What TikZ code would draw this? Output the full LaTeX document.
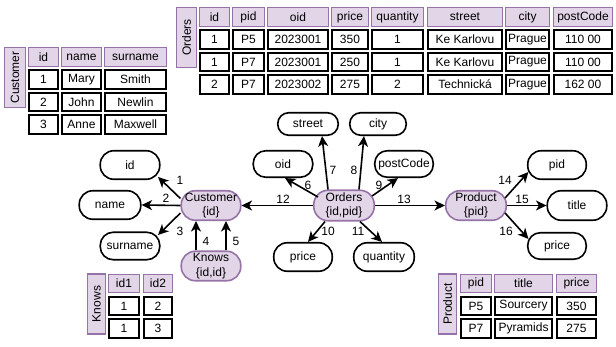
\documentclass[tikz,border=0pt]{standalone}
\usepackage{fontspec}
\setmainfont{Liberation Sans}
\usetikzlibrary{arrows.meta}
\definecolor{lilac}{HTML}{E1D5E7}
\definecolor{lilacline}{HTML}{9673A6}

% one table cell: style, name, left x, right x, top y, text
\newcommand\dbcell[6]{%
  \node[#1, minimum width={#4-#3-1.6}, minimum height=18.4] (#2) at ({(#3+#4)/2},{#5+10}) {#6};}

\tikzset{
  attr/.style={draw=black, fill=white, line width=1.6pt, inner sep=0pt, align=center},
  ent/.style={attr, draw=lilacline, fill=lilac},
  link/.style={line width=1.6pt, -{Stealth[length=10.5pt,width=10pt,inset=3pt]}},
  num/.style={inner sep=0pt},
  hcell/.style={draw=lilacline, fill=lilac, line width=1.3pt, inner sep=0pt},
  dcell/.style={draw=black, fill=white, line width=1.7pt, inner sep=0pt},
  tlabel/.style={draw=lilacline, fill=lilac, line width=1.3pt, inner sep=0pt, rotate=90},
}

\begin{document}
\begin{tikzpicture}[x=1pt, y=-1pt, font=\fontsize{12}{14.5}\selectfont]
\useasboundingbox (0,0) rectangle (616,347);

% ---------- Customer table ----------
\node[tlabel, minimum width=59.5, minimum height=20.5] (cus-t) at (15,77.5) {Customer};
\dbcell{hcell}{cus-h1}{28}{59}{47}{id}
\dbcell{hcell}{cus-h2}{61}{102}{47}{name}
\dbcell{hcell}{cus-h3}{104}{167}{47}{surname}
\foreach \y/\r/\a/\b/\c in {69.5/1/1/Mary/Smith, 92/2/2/John/Newlin, 114.5/3/3/Anne/Maxwell} {
  \dbcell{dcell}{cus-\r-1}{28}{59}{\y}{\a}
  \dbcell{dcell}{cus-\r-2}{61}{102}{\y}{\b}
  \dbcell{dcell}{cus-\r-3}{104}{167}{\y}{\c}
}

% ---------- Orders table ----------
\node[tlabel, minimum width=60, minimum height=19.5] (ord-t) at (186.5,37.5) {Orders};
\dbcell{hcell}{ord-h1}{199}{230}{7}{id}
\dbcell{hcell}{ord-h2}{232}{265}{7}{pid}
\dbcell{hcell}{ord-h3}{267}{329}{7}{oid}
\dbcell{hcell}{ord-h4}{331}{369}{7}{price}
\dbcell{hcell}{ord-h5}{371}{424}{7}{quantity}
\dbcell{hcell}{ord-h6}{427}{503}{7}{street}
\dbcell{hcell}{ord-h7}{505}{550}{7}{city}
\dbcell{hcell}{ord-h8}{553}{613}{7}{postCode}
\foreach \y/\r/\a/\b/\c/\d/\e/\f/\g/\h in {
    29.5/1/1/P5/2023001/350/1/Ke Karlovu/Prague/110 00,
    52/2/1/P7/2023001/250/1/Ke Karlovu/Prague/110 00,
    74.5/3/2/P7/2023002/275/2/Technická/Prague/162 00} {
  \dbcell{dcell}{ord-\r-1}{199}{230}{\y}{\a}
  \dbcell{dcell}{ord-\r-2}{232}{265}{\y}{\b}
  \dbcell{dcell}{ord-\r-3}{267}{329}{\y}{\c}
  \dbcell{dcell}{ord-\r-4}{331}{369}{\y}{\d}
  \dbcell{dcell}{ord-\r-5}{371}{424}{\y}{\e}
  \dbcell{dcell}{ord-\r-6}{427}{503}{\y}{\f}
  \dbcell{dcell}{ord-\r-7}{505}{550}{\y}{\g}
  \dbcell{dcell}{ord-\r-8}{553}{613}{\y}{\h}
}

% ---------- Knows table ----------
\node[tlabel, minimum width=60, minimum height=18] (kno-t) at (96.5,304) {Knows};
\dbcell{hcell}{kno-h1}{108}{140}{273.5}{id1}
\dbcell{hcell}{kno-h2}{143}{173}{273.5}{id2}
\foreach \y/\r/\a/\b in {296/1/1/2, 318.5/2/1/3} {
  \dbcell{dcell}{kno-\r-1}{108}{140}{\y}{\a}
  \dbcell{dcell}{kno-\r-2}{143}{173}{\y}{\b}
}

% ---------- Product table ----------
\node[tlabel, minimum width=60, minimum height=18] (pro-t) at (447.5,304) {Product};
\dbcell{hcell}{pro-h1}{460}{492}{273.5}{pid}
\dbcell{hcell}{pro-h2}{494}{553}{273.5}{title}
\dbcell{hcell}{pro-h3}{556}{597}{273.5}{price}
\foreach \y/\r/\a/\b/\c in {296/1/P5/Sourcery/350, 318.5/2/P7/Pyramids/275} {
  \dbcell{dcell}{pro-\r-1}{460}{492}{\y}{\a}
  \dbcell{dcell}{pro-\r-2}{494}{553}{\y}{\b}
  \dbcell{dcell}{pro-\r-3}{556}{597}{\y}{\c}
}

% ---------- schema graph: entities ----------
\node[ent, minimum width=59.5, minimum height=29.5, rounded corners=14pt] (cust) at (211,205.5) {Customer\\\{id\}};
\node[ent, minimum width=59.5, minimum height=29.5, rounded corners=14pt] (knows) at (211,266) {Knows\\\{id,id\}};
\node[ent, minimum width=60.5, minimum height=30.5, rounded corners=14.5pt] (orders) at (344,205.5) {Orders\\\{id,pid\}};
\node[ent, minimum width=60.5, minimum height=29.5, rounded corners=14pt] (product) at (476,205.5) {Product\\\{pid\}};

% ---------- schema graph: attributes ----------
\node[attr, minimum width=59.5, minimum height=28.5, rounded corners=13.5pt] (id) at (130,165) {id};
\node[attr, minimum width=61.5, minimum height=28.5, rounded corners=13.5pt] (name) at (110,205) {name};
\node[attr, minimum width=59.5, minimum height=27.5, rounded corners=13pt] (surname) at (130,246) {surname};
\node[attr, minimum width=59.5, minimum height=26.5, rounded corners=12.5pt] (oid) at (283,164) {oid};
\node[attr, minimum width=60.5, minimum height=22.5, rounded corners=11pt] (street) at (308,124) {street};
\node[attr, minimum width=56.5, minimum height=22.5, rounded corners=11pt] (city) at (378,124) {city};
\node[attr, minimum width=58.5, minimum height=26.5, rounded corners=12.5pt] (postcode) at (404,164) {postCode};
\node[attr, minimum width=58.5, minimum height=28.5, rounded corners=13.5pt] (price) at (303,257) {price};
\node[attr, minimum width=60.5, minimum height=28.5, rounded corners=13.5pt] (quantity) at (384,257) {quantity};
\node[attr, minimum width=58.5, minimum height=28.5, rounded corners=13.5pt] (pid) at (557,165) {pid};
\node[attr, minimum width=59.5, minimum height=29.5, rounded corners=14pt] (title) at (577,205.5) {title};
\node[attr, minimum width=58.5, minimum height=26.5, rounded corners=12.5pt] (pprice) at (557,246) {price};

% ---------- connectors ----------
\draw[link] ([yshift=7pt]cust.west) -- ([xshift=-2.5pt,yshift=-12pt]id.east);
\draw[link] (cust.west) -- (name.east);
\draw[link] ([yshift=-7.5pt]cust.west) -- ([xshift=-2.5pt,yshift=11pt]surname.east);
\draw[link] ([xshift=-15pt]knows.north) -- ([xshift=-15pt]cust.south);
\draw[link] ([xshift=15pt]knows.north) -- ([xshift=15pt]cust.south);
\draw[link] (orders.west) -- (cust.east);
\draw[link] ([xshift=5pt,yshift=8.5pt]orders.west) -- ([xshift=2pt]oid.south);
\draw[link] ([xshift=-16pt]orders.north) -- ([xshift=14pt]street.south);
\draw[link] ([xshift=15pt]orders.north) -- ([xshift=-14pt]city.south);
\draw[link] ([xshift=-3pt,yshift=9.5pt]orders.east) -- ([xshift=-6pt]postcode.south);
\draw[link] ([xshift=-19pt]orders.south) -- ([xshift=5pt]price.north);
\draw[link] ([xshift=16pt]orders.south) -- ([xshift=-2pt]quantity.north);
\draw[link] (orders.east) -- (product.west);
\draw[link] ([xshift=-2pt,yshift=7.5pt]product.east) -- ([xshift=1.5pt,yshift=-7pt]pid.west);
\draw[link] (product.east) -- (title.west);
\draw[link] ([xshift=-2pt,yshift=-7.5pt]product.east) -- ([xshift=1.5pt,yshift=7pt]pprice.west);

% ---------- connector numbers ----------
\node[num] (n1) at (180,180) {1};
\node[num] (n2) at (166,198) {2};
\node[num] (n3) at (180,231) {3};
\node[num] (n4) at (206,241) {4};
\node[num] (n5) at (236,241) {5};
\node[num] (n6) at (308,185) {6};
\node[num] (n7) at (333,170) {7};
\node[num] (n8) at (354,170) {8};
\node[num] (n9) at (379,185) {9};
\node[num] (n10) at (328,231) {10};
\node[num] (n11) at (358,231) {11};
\node[num] (n12) at (283,199) {12};
\node[num] (n13) at (404,199) {13};
\node[num] (n14) at (505,180) {14};
\node[num] (n15) at (522,199) {15};
\node[num] (n16) at (506,231) {16};
\end{tikzpicture}
\end{document}
